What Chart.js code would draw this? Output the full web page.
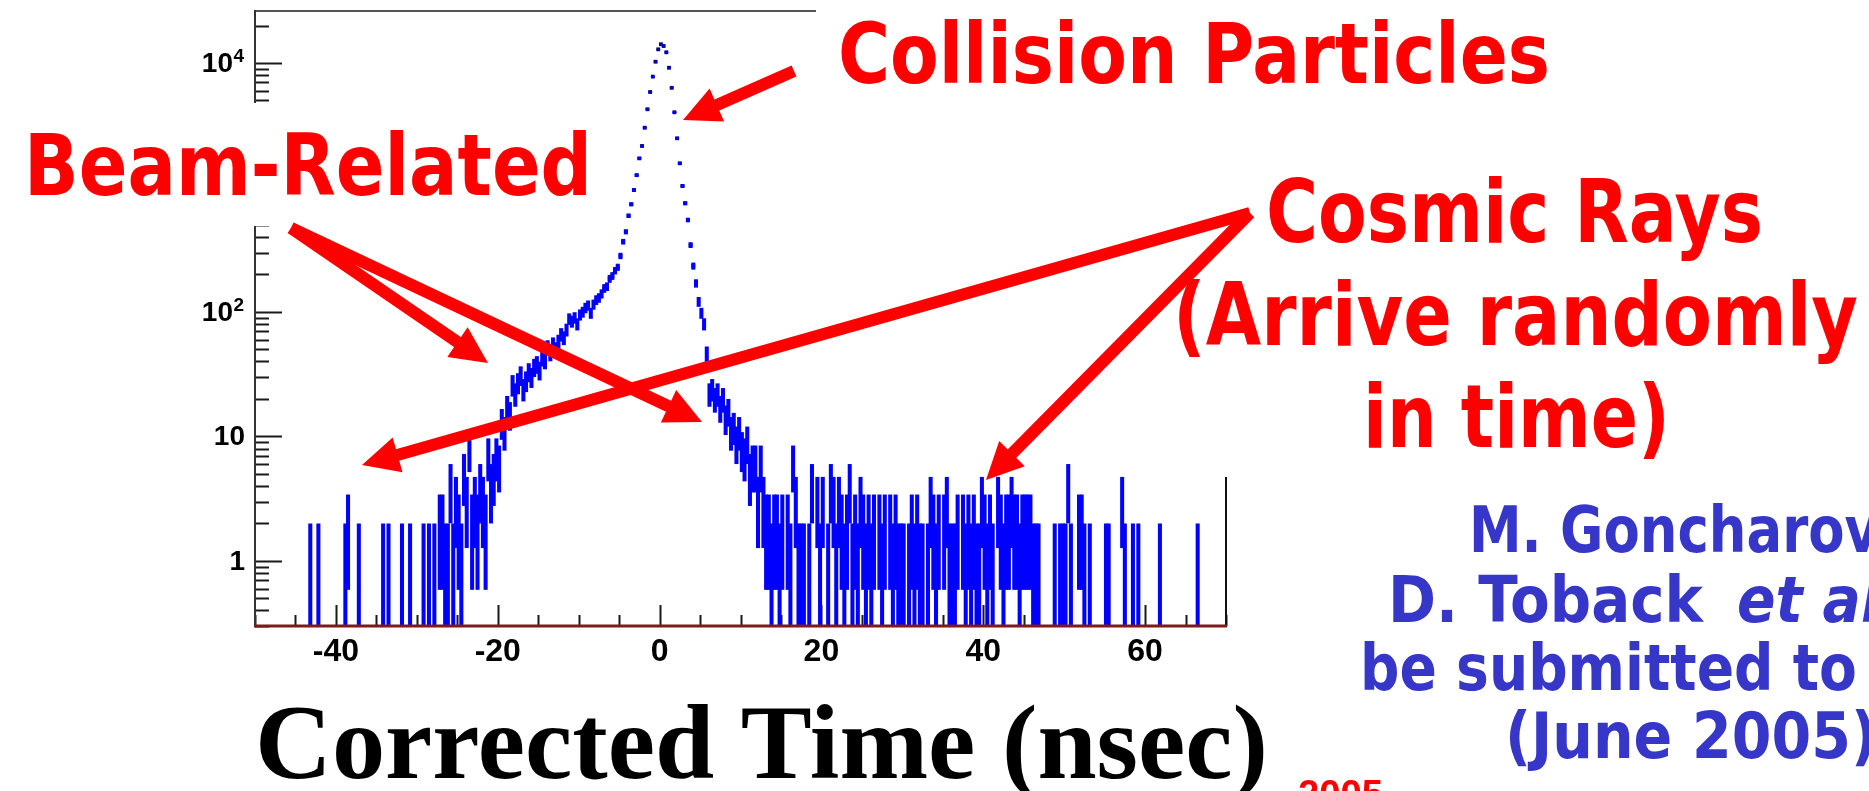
<!DOCTYPE html>
<html>
<head>
<meta charset="utf-8">
<title>Corrected Time (nsec)</title>
<script src="https://cdn.jsdelivr.net/npm/chart.js@4.4.1/dist/chart.umd.min.js"></script>
<style>
  html, body { margin: 0; padding: 0; background: #fff; }
  canvas { display: block; }
</style>
</head>
<body>
<canvas id="timeChart" width="1869" height="791"></canvas>
<script>
// histogram: 360 bins of 1/3 ns between -50 and 70 ns
const BIN_LOW = -50;
const BIN_WIDTH = 1 / 3;

const counts = [
  0, 0, 0, 0, 0, 0, 0, 0, 0, 0, 0, 0, 0, 0, 0, 0, 0, 0, 0, 0,            // 0
  1, 0, 0, 1, 0, 0, 0, 0, 0, 0, 0, 0, 0, 1, 2, 0, 0, 0, 1, 0,            // 20
  0, 0, 0, 0, 0, 0, 0, 1, 0, 1, 0, 0, 0, 0, 1, 0, 0, 1, 0, 0,            // 40
  0, 0, 1, 0, 1, 0, 1, 0, 2, 2, 1, 1, 4, 1, 3, 2, 1, 5, 3, 8,            // 60
  2, 3, 2, 4, 3, 2, 7, 4, 5, 7, 6, 13, 11, 17, 15, 26, 22, 27, 31, 24,   // 80
  28, 33, 30, 36, 38, 34, 43, 41, 52, 47, 55, 50, 58, 66, 62, 72, 88, 84, 90, 80,          // 100
  95, 100, 108, 113, 98, 115, 125, 130, 140, 155, 160, 185, 195, 215, 229, 282, 367, 441, 593, 733, // 120
  955, 1256, 1714, 2155, 3020, 4250, 5850, 7770, 10240, 12880,
  14150, 13700, 12190, 9160, 6320, 4020, 2485, 1564, 1028, 747,          // 140
  548, 345, 234, 170, 121, 98, 80, 46, 22, 24, 20, 22, 17, 20, 14, 16, 11, 12, 9, 11,      // 160
  8, 7, 9, 5, 6, 6, 3, 6, 3, 2, 2, 1, 2, 2, 1, 2, 0, 2, 1, 6,            // 180
  3, 1, 1, 1, 0, 1, 4, 0, 3, 1, 3, 0, 1, 4, 3, 1, 3, 2, 1, 2,            // 200
  4, 1, 2, 1, 3, 2, 1, 2, 1, 2, 0, 2, 1, 2, 0, 2, 1, 2, 1, 1,            // 220
  1, 0, 1, 2, 1, 2, 1, 1, 0, 1, 3, 2, 1, 2, 0, 2, 3, 1, 1, 1,            // 240
  2, 0, 2, 1, 2, 1, 2, 1, 1, 3, 2, 1, 2, 1, 0, 3, 2, 1, 2, 2,            // 260
  3, 2, 2, 1, 2, 2, 2, 2, 1, 1, 1, 0, 0, 0, 0, 0, 1, 0, 1, 1,            // 280
  1, 4, 1, 0, 0, 2, 2, 1, 0, 1, 0, 0, 0, 0, 0, 1, 1, 0, 0, 0,            // 300
  0, 3, 1, 0, 0, 1, 0, 1, 0, 0, 0, 0, 0, 0, 0, 1, 0, 0, 0, 0,            // 320
  0, 0, 0, 0, 0, 0, 0, 0, 0, 1, 0, 0, 0, 0, 0, 0, 0, 0, 0, 0             // 340
];

const X_RANGE = [-50, 70];
const Y_RANGE = [0.3, 26170];
const X_TICKS = [-40, -20, 0, 20, 40, 60];
const X_TICK_LABELS = ['-40', '-20', '0', '20', '40', '60'];
const Y_TICKS = [1, 10, 100, 1000, 10000];
const Y_TICK_BASE = ['1', '10', '10', '10', '10'];
const Y_TICK_EXP = ['', '', '2', '3', '4'];

const COLORS = {
  fill: '#0000ff',
  marker: '#00007a',
  red: '#ff0000',
  blue: '#3636c9'
};

const HAND = '"Comic Sans MS", "DejaVu Sans", sans-serif';
const AXIS_FONT = '"Liberation Sans", Arial, sans-serif';

// white label boxes pasted over the plot, then the labels and arrows
const COVER_BOXES = [
  [0, 103, 612, 123],
  [816, 0, 1053, 102],
  [1150, 102, 719, 375]
];

const LABELS = [
  { text: 'Collision Particles', x: 838, y: 83, size: 84, width: 712, color: COLORS.red },
  { text: 'Beam-Related', x: 24, y: 195, size: 86, width: 568, color: COLORS.red },
  { text: 'Cosmic Rays', x: 1266, y: 242, size: 88, width: 497, color: COLORS.red },
  { text: '(Arrive randomly', x: 1173, y: 345, size: 88, width: 685, color: COLORS.red },
  { text: 'in time)', x: 1363, y: 447, size: 88, width: 307, color: COLORS.red },
  { text: 'M. Goncharov', x: 1469, y: 552, size: 64, width: 410, color: COLORS.blue },
  { text: 'D. Toback', x: 1388, y: 622, size: 64, width: 315, color: COLORS.blue },
  { text: 'et al.', x: 1737, y: 622, size: 64, width: 165, color: COLORS.blue, italic: true },
  { text: 'be submitted to', x: 1360, y: 690, size: 64, width: 497, color: COLORS.blue },
  { text: '(June 2005)', x: 1505, y: 758, size: 64, width: 372, color: COLORS.blue }
];

const ARROWS = [
  [794, 71, 683, 120],
  [291, 228, 488, 363],
  [291, 228, 702, 422],
  [1250, 213, 362, 465],
  [1250, 213, 986, 480]
];

const binCenters = counts.map((_, i) => BIN_LOW + (i + 0.5) * BIN_WIDTH);
const errorBoxes = [];
const markers = [];
counts.forEach((n, i) => {
  if (!n) return;
  const s = Math.sqrt(n);
  errorBoxes.push({ x: binCenters[i], y: [Math.max(n - s, 0.05), n + s] });
  markers.push({ x: binCenters[i], y: n });
});

function drawText(ctx, text, x, y, font, color, width) {
  ctx.font = font;
  const w = ctx.measureText(text).width;
  const sx = width ? width / w : 1;
  ctx.save();
  ctx.fillStyle = color;
  ctx.textAlign = 'left';
  ctx.textBaseline = 'alphabetic';
  ctx.translate(x, y);
  ctx.scale(sx, 1);
  ctx.fillText(text, 0, 0);
  ctx.restore();
}

function drawArrow(ctx, x1, y1, x2, y2) {
  const ang = Math.atan2(y2 - y1, x2 - x1);
  const c = Math.cos(ang), s = Math.sin(ang);
  const headLen = 37, headHalf = 18;
  const bx = x2 - headLen * c, by = y2 - headLen * s;
  ctx.save();
  ctx.strokeStyle = COLORS.red;
  ctx.fillStyle = COLORS.red;
  ctx.lineWidth = 12;
  ctx.beginPath();
  ctx.moveTo(x1, y1);
  ctx.lineTo(bx + 3 * c, by + 3 * s);
  ctx.stroke();
  ctx.beginPath();
  ctx.moveTo(x2, y2);
  ctx.lineTo(bx - headHalf * s, by + headHalf * c);
  ctx.lineTo(bx + headHalf * s, by - headHalf * c);
  ctx.closePath();
  ctx.fill();
  ctx.restore();
}

const decorations = {
  id: 'decorations',
  beforeDatasetsDraw(chart) {
    const { ctx, chartArea: a, scales: { x, y } } = chart;
    ctx.save();
    ctx.strokeStyle = '#1a1a1a';
    ctx.lineWidth = 2;
    ctx.beginPath();
    for (let e = -1; e <= 4; e++) {
      for (let m = 1; m <= 9; m++) {
        const v = m * Math.pow(10, e);
        if (v < Y_RANGE[0] || v > Y_RANGE[1]) continue;
        const py = Math.round(y.getPixelForValue(v)) + 0.5;
        ctx.moveTo(a.left, py);
        ctx.lineTo(a.left + (m === 1 ? 27 : 14), py);
      }
    }
    for (let v = X_RANGE[0]; v <= X_RANGE[1]; v += 5) {
      const px = Math.round(x.getPixelForValue(v)) + 0.5;
      ctx.moveTo(px, a.bottom);
      ctx.lineTo(px, a.bottom - (v % 20 === 0 ? 21 : 11));
    }
    ctx.stroke();

    // y labels, ROOT style 10^n
    ctx.fillStyle = '#000';
    Y_TICKS.forEach((v, i) => {
      const py = y.getPixelForValue(v);
      const exp = Y_TICK_EXP[i];
      ctx.font = `bold 28px ${AXIS_FONT}`;
      ctx.textAlign = 'right';
      ctx.textBaseline = 'middle';
      ctx.fillText(Y_TICK_BASE[i], exp ? a.left - 22 : a.left - 10, py + 1);
      if (exp) {
        ctx.font = `bold 19px ${AXIS_FONT}`;
        ctx.textBaseline = 'alphabetic';
        ctx.fillText(exp, a.left - 11, py - 1);
      }
    });
    ctx.restore();
  },
  afterDatasetsDraw(chart) {
    const { ctx, chartArea: a } = chart;
    ctx.save();
    ctx.lineWidth = 2;
    ctx.strokeStyle = '#555';
    ctx.beginPath(); ctx.moveTo(a.left, a.top); ctx.lineTo(a.right, a.top); ctx.stroke();
    ctx.strokeStyle = '#111';
    ctx.beginPath(); ctx.moveTo(a.right, a.top); ctx.lineTo(a.right, a.bottom); ctx.stroke();
    ctx.strokeStyle = '#333';
    ctx.beginPath(); ctx.moveTo(a.left, a.top - 1); ctx.lineTo(a.left, a.bottom); ctx.stroke();
    ctx.strokeStyle = '#7a1c1c';
    ctx.lineWidth = 3;
    ctx.beginPath(); ctx.moveTo(a.left - 1, a.bottom); ctx.lineTo(a.right + 1, a.bottom); ctx.stroke();
    ctx.restore();
  },
  afterDraw(chart) {
    const { ctx, chartArea: a } = chart;
    ctx.save();
    ctx.fillStyle = '#fff';
    COVER_BOXES.forEach(b => ctx.fillRect(b[0], b[1], b[2], b[3]));
    ctx.restore();

    drawText(ctx, 'Corrected Time (nsec)', a.left, 778,
      'bold 106px "Liberation Serif", "Times New Roman", serif', '#000', 1013);
    drawText(ctx, '2005', 1298, 807, `bold 38px ${AXIS_FONT}`, COLORS.red, 85);

    LABELS.forEach(l => {
      const font = `${l.italic ? 'italic ' : ''}bold ${l.size}px ${HAND}`;
      drawText(ctx, l.text, l.x, l.y, font, l.color, l.width);
    });
    ARROWS.forEach(r => drawArrow(ctx, r[0], r[1], r[2], r[3]));
  }
};

const ctx = document.getElementById('timeChart').getContext('2d');
new Chart(ctx, {
  type: 'bar',
  data: {
    datasets: [
      {
        type: 'bar',
        data: errorBoxes,
        backgroundColor: COLORS.fill,
        borderWidth: 0,
        barPercentage: 1.5,
        categoryPercentage: 1
      },
      {
        type: 'scatter',
        data: markers,
        pointStyle: 'rect',
        pointRadius: c => (c.raw && c.raw.y >= 150 ? 2.7 : 0.9),
        pointBackgroundColor: COLORS.marker,
        pointBorderWidth: 0
      }
    ]
  },
  options: {
    responsive: false,
    devicePixelRatio: 1,
    animation: false,
    layout: { padding: { left: 0, top: 11, right: 643, bottom: 0 } },
    plugins: {
      legend: { display: false },
      tooltip: { enabled: false }
    },
    scales: {
      x: {
        type: 'linear',
        min: X_RANGE[0],
        max: X_RANGE[1],
        offset: false,
        grid: { display: false, drawTicks: false },
        border: { display: false },
        afterBuildTicks: s => { s.ticks = X_TICKS.map(v => ({ value: v })); },
        afterFit: s => { s.height = 165; s.paddingLeft = 0; s.paddingRight = 0; },
        ticks: {
          autoSkip: false,
          maxRotation: 0,
          padding: 7,
          color: '#000',
          font: { family: AXIS_FONT, size: 32, weight: 'bold' },
          callback: (v, i) => X_TICK_LABELS[i]
        }
      },
      y: {
        type: 'logarithmic',
        min: Y_RANGE[0],
        max: Y_RANGE[1],
        grid: { display: false, drawTicks: false },
        border: { display: false },
        afterBuildTicks: s => { s.ticks = Y_TICKS.map(v => ({ value: v })); },
        afterFit: s => { s.width = 255; s.paddingTop = 0; s.paddingBottom = 0; },
        ticks: { display: false }
      }
    }
  },
  plugins: [decorations]
});
</script>
</body>
</html>
